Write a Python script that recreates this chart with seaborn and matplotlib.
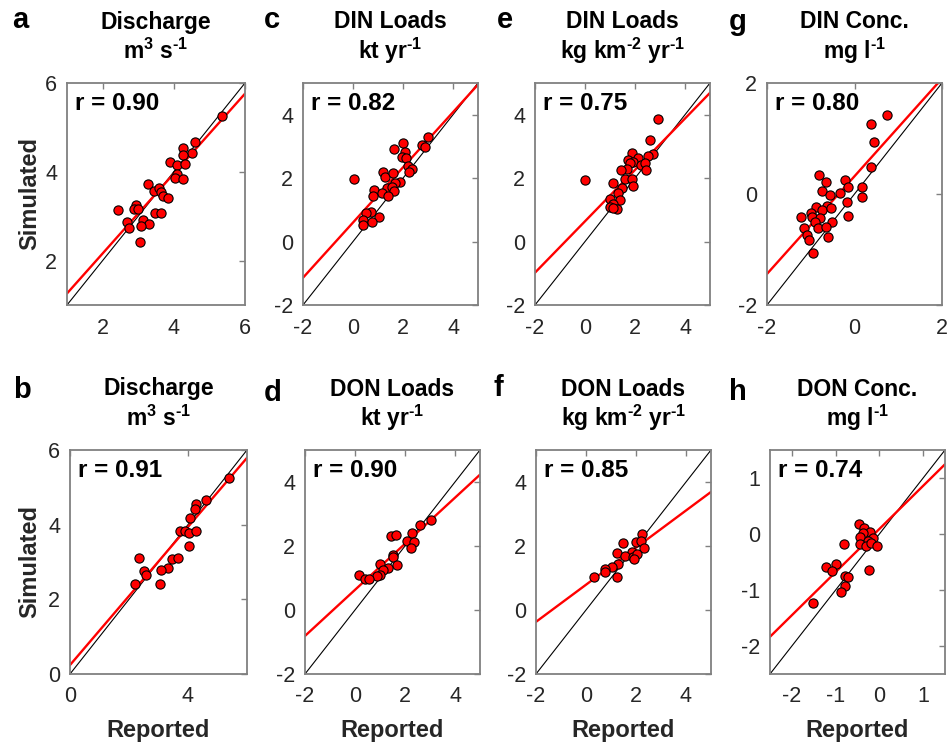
import numpy as np
import pandas as pd
import seaborn as sns
import matplotlib
matplotlib.use("Agg")
import matplotlib.pyplot as plt

# ---------------- data ----------------
a_reported = [5.35, 4.60, 4.27, 4.50, 4.25, 3.89, 4.08, 4.31, 4.08, 4.03, 4.25, 3.28, 3.45, 3.59, 3.64,
              3.69, 3.83, 2.94, 2.89, 2.99, 2.44, 3.47, 3.64, 2.68, 3.13, 3.31, 3.08, 2.75, 3.05]
a_simulated = [5.26, 4.66, 4.54, 4.43, 4.37, 4.22, 4.15, 4.18, 3.94, 3.87, 3.83, 3.73, 3.57, 3.64, 3.55,
               3.45, 3.42, 3.25, 3.17, 3.16, 3.13, 3.07, 3.08, 2.87, 2.92, 2.83, 2.77, 2.74, 2.42]

c_reported = [3.01, 2.75, 2.88, 2.01, 1.65, 2.08, 1.95, 2.11, 2.19, 2.35, 2.24, 1.19, 1.28, 1.61, 0.04,
              1.88, 1.68, 1.35, 1.55, 1.65, 0.85, 1.15, 1.41, 0.79, 0.72, 0.51, 1.04, 0.41, 0.75, 0.41]
c_simulated = [3.31, 3.04, 2.99, 3.12, 2.92, 2.83, 2.68, 2.62, 2.38, 2.28, 2.20, 2.20, 2.04, 2.17, 1.98,
               1.89, 1.86, 1.68, 1.71, 1.59, 1.62, 1.52, 1.45, 1.44, 0.94, 0.89, 0.76, 0.68, 0.63, 0.52]

e_reported = [2.91, 2.60, 2.73, 2.51, 1.87, 2.11, 1.73, 1.93, 1.80, 2.24, 2.40, 1.67, 1.44, 2.44,
              0.00, 1.60, 1.87, 1.13, 1.91, 1.47, 1.33, 1.00, 1.40, 1.13, 1.00, 1.27, 1.11]
e_simulated = [3.85, 3.20, 2.76, 2.70, 2.80, 2.62, 2.57, 2.52, 2.47, 2.41, 2.49, 2.28, 2.26, 2.26,
               1.94, 1.96, 1.97, 1.84, 1.75, 1.70, 1.52, 1.33, 1.31, 1.18, 1.10, 1.03, 1.05]

g_reported = [0.74, 0.38, 0.45, 0.38, -0.81, -0.66, -0.22, -0.16, 0.18, -0.75, -0.56, -0.33, 0.16,
              -0.18, -0.88, -0.64, -0.99, -0.74, -0.54, -1.22, -0.98, -0.79, -0.90, -0.16, -0.51,
              -1.15, -0.84, -0.65, -1.09, -1.04, -0.60, -0.94]
g_simulated = [1.42, 1.27, 0.93, 0.48, 0.35, 0.22, 0.25, 0.12, 0.12, 0.05, -0.01, 0.01, -0.05,
               -0.14, -0.24, -0.22, -0.34, -0.29, -0.26, -0.42, -0.41, -0.44, -0.50, -0.39, -0.50,
               -0.61, -0.61, -0.59, -0.74, -0.83, -0.78, -1.07]

b_reported = [5.39, 4.61, 4.28, 4.25, 4.08, 3.73, 3.90, 4.05, 4.28, 4.02, 2.33, 3.46, 3.65, 3.31,
              2.51, 3.08, 2.59, 2.19, 3.05]
b_simulated = [5.26, 4.65, 4.56, 4.41, 4.18, 3.84, 3.84, 3.78, 3.84, 3.44, 3.12, 3.08, 3.10, 2.84,
               2.76, 2.79, 2.65, 2.42, 2.42]

d_reported = [3.03, 2.60, 1.44, 1.64, 2.27, 2.07, 2.37, 2.23, 1.51, 1.53, 1.67, 1.00, 1.31, 1.13,
              0.16, 1.00, 0.87, 0.40, 0.56]
d_simulated = [2.81, 2.66, 2.31, 2.34, 2.40, 2.17, 2.12, 1.93, 1.72, 1.67, 1.41, 1.44, 1.30, 1.25,
               1.09, 1.09, 1.06, 0.96, 0.97]

f_reported = [2.24, 1.47, 2.00, 2.20, 2.33, 1.24, 1.84, 1.57, 1.86, 2.04, 1.27, 1.02, 0.76, 0.76,
              0.30, 1.24, 1.90]
f_simulated = [2.38, 2.10, 2.14, 2.17, 1.93, 1.79, 1.82, 1.69, 1.66, 1.74, 1.43, 1.35, 1.27, 1.19,
               1.03, 1.03, 1.60]

h_reported = [-0.46, -0.34, -0.21, -0.37, -0.44, -0.14, -0.25, -0.44, -0.31, -0.19, -0.06, -0.81,
              -0.99, -1.22, -1.08, -0.24, -0.79, -0.71, -0.79, -0.88, -1.52]
h_simulated = [0.17, 0.11, 0.04, 0.02, -0.05, -0.08, -0.12, -0.18, -0.22, -0.16, -0.22, -0.17,
               -0.53, -0.59, -0.66, -0.65, -0.75, -0.77, -0.93, -1.04, -1.23]

panel_letters = ["a", "c", "e", "g", "b", "d", "f", "h"]
titles_top = ["Discharge", "DIN Loads", "DIN Loads", "DIN Conc.",
              "Discharge", "DON Loads", "DON Loads", "DON Conc."]
titles_unit = [r"m$^{\text{3}}$ s$^{\text{-1}}$", r"kt yr$^{\text{-1}}$",
               r"kg km$^{\text{-2}}$ yr$^{\text{-1}}$", r"mg l$^{\text{-1}}$",
               r"m$^{\text{3}}$ s$^{\text{-1}}$", r"kt yr$^{\text{-1}}$",
               r"kg km$^{\text{-2}}$ yr$^{\text{-1}}$", r"mg l$^{\text{-1}}$"]
r_values = [0.90, 0.82, 0.75, 0.80, 0.91, 0.90, 0.85, 0.74]
fit_slopes = [0.90, 0.87, 0.81, 0.88, 0.925, 0.72, 0.58, 0.77]
fit_intercepts = [0.36, 0.60, 0.64, 0.32, 0.24, 0.63, 0.79, 0.09]

reported = [a_reported, c_reported, e_reported, g_reported, b_reported, d_reported, f_reported, h_reported]
simulated = [a_simulated, c_simulated, e_simulated, g_simulated, b_simulated, d_simulated, f_simulated, h_simulated]

# ---------------- layout / style ----------------
W, H = 951, 749
rects_px = [(67, 83, 245, 305), (303, 83, 478, 305), (535, 83, 710, 305), (767, 83, 942, 305),
            (70, 450, 247, 674), (305, 450, 480, 674), (536, 450, 711, 674), (770, 450, 945, 674)]
limits = [(1, 6), (-2, 5), (-2, 5), (-2, 2), (0, 6), (-2, 5), (-2, 5), (-2.5, 1.5)]
xticks = [[2, 4, 6], [-2, 0, 2, 4], [-2, 0, 2, 4], [-2, 0, 2],
          [0, 4], [-2, 0, 2, 4], [-2, 0, 2, 4], [-2, -1, 0, 1]]
yticks = [[2, 4, 6], [-2, 0, 2, 4], [-2, 0, 2, 4], [-2, 0, 2],
          [0, 2, 4, 6], [-2, 0, 2, 4], [-2, 0, 2, 4], [-2, -1, 0, 1]]
letter_pos = [(20, 20), (272, 20), (505, 20), (738, 22), (22, 390), (273, 393), (498, 388), (738, 392)]

sns.set_theme(style="white")
plt.rcParams["font.family"] = ["Liberation Sans", "DejaVu Sans"]
plt.rcParams["mathtext.fontset"] = "custom"
plt.rcParams["mathtext.rm"] = "Liberation Sans:bold"
plt.rcParams["mathtext.it"] = "Liberation Sans:bold"
plt.rcParams["mathtext.bf"] = "Liberation Sans:bold"
plt.rcParams["mathtext.default"] = "rm"

fig = plt.figure(figsize=(W / 100, H / 100), dpi=100)
fig.patch.set_facecolor("white")

frame_col = "#808080"
for i in range(8):
    x0, y0, x1, y1 = rects_px[i]
    ax = fig.add_axes([x0 / W, 1 - y1 / H, (x1 - x0) / W, (y1 - y0) / H])
    ax.set_facecolor("white")
    lo, hi = limits[i]
    ax.set_xlim(lo, hi)
    ax.set_ylim(lo, hi)
    # 1:1 line
    ax.axline((0, 0), slope=1, color="black", lw=0.8, zorder=1)
    # regression line
    ax.axline((0, fit_intercepts[i]), slope=fit_slopes[i], color="#ff0000", lw=1.7, zorder=2)
    df = pd.DataFrame({"Reported": reported[i], "Simulated": simulated[i]})
    sns.scatterplot(data=df, x="Reported", y="Simulated", ax=ax, color="#ff0000",
                    edgecolor="black", linewidth=0.8, s=44, zorder=3, legend=False)
    ax.set_xlabel("")
    ax.set_ylabel("")
    ax.set_xticks(xticks[i])
    ax.set_yticks(yticks[i])
    ax.set_xticklabels([f"{t:g}" for t in xticks[i]])
    ax.set_yticklabels([f"{t:g}" for t in yticks[i]])
    ax.tick_params(direction="in", top=True, right=True, length=4, width=1,
                   color=frame_col, labelcolor="#262626", labelsize=15.5)
    ax.tick_params(axis="x", pad=9)
    ax.tick_params(axis="y", pad=7)
    for sp in ax.spines.values():
        sp.set_color(frame_col)
        sp.set_linewidth(1.3)
        sp.set_visible(True)
    ax.annotate(f"r = {r_values[i]:.2f}", xy=(0, 1), xycoords="axes fraction",
                xytext=(6, -15), textcoords="offset points", ha="left", va="center",
                fontsize=17.5, fontweight="bold", color="black")
    cx = (x0 + x1) / 2 / W
    fig.text(cx, 1 - (y0 - 61) / H, titles_top[i], ha="center", va="center",
             fontsize=16.5, fontweight="bold", color="black")
    fig.text(cx, 1 - (y0 - 32) / H, titles_unit[i], ha="center", va="center",
             fontsize=16.5, fontweight="bold", color="black")
    lx, ly = letter_pos[i]
    fig.text(lx / W, 1 - ly / H, panel_letters[i], ha="center", va="center",
             fontsize=21, fontweight="bold", color="black")

# shared axis labels
for yc in [194, 562]:
    fig.text(30 / W, 1 - yc / H, "Simulated", rotation=90, ha="center", va="center",
             fontsize=17, fontweight="bold", color="#262626")
for i in range(4, 8):
    x0, y0, x1, y1 = rects_px[i]
    fig.text((x0 + x1) / 2 / W, 1 - 730 / H, "Reported", ha="center", va="center",
             fontsize=17, fontweight="bold", color="#262626")

fig.savefig("out.png", dpi=100, facecolor="white")
